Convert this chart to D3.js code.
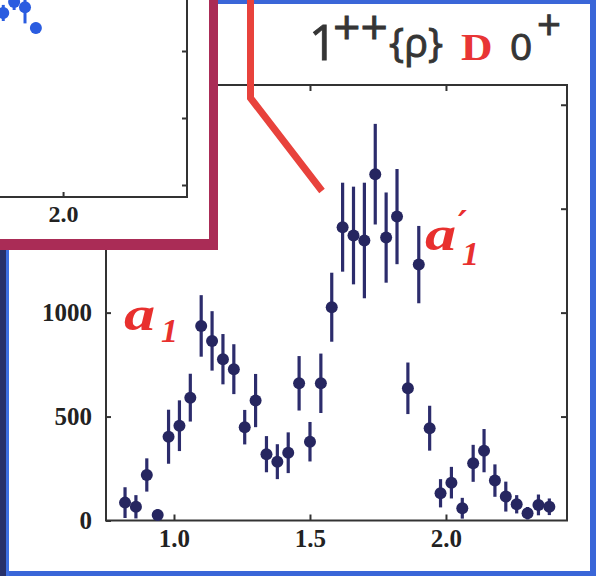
<!DOCTYPE html>
<html><head><meta charset="utf-8">
<script src="https://cdn.jsdelivr.net/npm/d3@7"></script>
<style>html,body{margin:0;padding:0;background:#fff;}svg{display:block;}</style>
</head><body>
<script>
// ---- data (main panel: 1++ {rho} D 0+) ----
const masses = [0.82,0.86,0.90,0.94,0.98,1.02,1.06,1.10,1.14,1.18,1.22,1.26,1.30,1.34,1.38,1.42,1.46,1.50,1.54,1.58,
                1.62,1.66,1.70,1.74,1.78,1.82,1.86,1.90,1.94,1.98,2.02,2.06,2.10,2.14,2.18,2.22,2.26,2.30,2.34,2.38];
const counts = [86,66,219,26,403,456,591,936,864,776,728,449,577,319,283,326,660,379,660,1026,
                1411,1371,1347,1666,1361,1462,636,1231,444,131,182,59,275,336,192,115,78,35,75,66];
const errors = [74,56,80,28,130,122,115,148,143,121,120,83,128,87,84,98,131,95,143,166,
                214,235,278,242,217,229,124,186,108,68,76,50,89,104,78,72,44,30,50,40];
const xTicks = [1.0,1.5,2.0];
const yTicksLeft = [0,500,1000];
const yTicksRight = [500,1000,1500,2000];
// ---- data (inset, partially visible) ----
const insetMasses = [1.78,1.82,1.86,1.90];
const insetCounts = [1284,1366,1326,1172];
const insetErrors = [60,60,120,40];
const insetXTicks = [2.0];
const insetYTicks = [0,500,1000];

const W=596,H=576;
const svg=d3.select("body").append("svg").attr("width",W).attr("height",H);

// background and outer blue frame
svg.append("rect").attr("x",0).attr("y",0).attr("width",W).attr("height",H).attr("fill","#ffffff");
svg.append("rect").attr("x",0).attr("y",0).attr("width",W).attr("height",4).attr("fill","#3a66d8");
svg.append("rect").attr("x",590).attr("y",0).attr("width",6).attr("height",H).attr("fill","#3a66d8");
svg.append("rect").attr("x",0).attr("y",571).attr("width",W).attr("height",5).attr("fill","#3a66d8");
svg.append("rect").attr("x",0).attr("y",0).attr("width",6).attr("height",H).attr("fill","#26306a");
svg.append("rect").attr("x",6).attr("y",0).attr("width",3).attr("height",H).attr("fill","#3d6fe2");

// ---- main panel ----
const x=d3.scaleLinear().domain([0.75,2.445]).range([106,567]);
const y=d3.scaleLinear().domain([0,2095]).range([520.5,85]);
const axisCol="#333";
const tickFont="'Liberation Serif','Times New Roman',serif";

const gL=svg.append("g").attr("transform",`translate(${x.range()[0]},0)`)
  .call(d3.axisLeft(y).tickValues(yTicksLeft).tickFormat(d3.format("d")).tickSize(-5).tickSizeOuter(0).tickPadding(14));
const gB=svg.append("g").attr("transform",`translate(0,${y.range()[0]})`)
  .call(d3.axisBottom(x).tickValues(xTicks).tickFormat(d3.format(".1f")).tickSize(-6).tickSizeOuter(0).tickPadding(9));
const gR=svg.append("g").attr("transform",`translate(${x.range()[1]},0)`)
  .call(d3.axisRight(y).tickValues(yTicksRight).tickFormat("").tickSize(-6).tickSizeOuter(0));
const gT=svg.append("g").attr("transform",`translate(0,${y.range()[1]})`)
  .call(d3.axisTop(x).tickValues(xTicks).tickFormat("").tickSize(-6).tickSizeOuter(0));
[gL,gB,gR,gT].forEach(g=>{
  g.select(".domain").remove();
  g.selectAll(".tick line").attr("stroke",axisCol).attr("stroke-width",2);
  g.selectAll(".tick text").attr("fill","#222").style("font-family",tickFont).style("font-weight","bold").style("font-size","25px");
});
svg.append("rect").attr("x",x.range()[0]).attr("y",y.range()[1])
  .attr("width",x.range()[1]-x.range()[0]).attr("height",y.range()[0]-y.range()[1])
  .attr("fill","none").attr("stroke",axisCol).attr("stroke-width",2);

const pts=masses.map((m,i)=>({m,c:counts[i],e:errors[i]}));
const ptCol="#262660";
svg.append("g").selectAll("line").data(pts).join("line")
  .attr("x1",d=>x(d.m)).attr("x2",d=>x(d.m))
  .attr("y1",d=>y(Math.max(0,d.c-d.e))).attr("y2",d=>y(d.c+d.e))
  .attr("stroke","#2c2c6c").attr("stroke-width",3.2);
svg.append("g").selectAll("circle").data(pts).join("circle")
  .attr("cx",d=>x(d.m)).attr("cy",d=>y(d.c)).attr("r",6).attr("fill",ptCol);

// resonance labels
const red="#e8302e";
const lblFont="'Liberation Serif','Times New Roman',serif";
function aLabel(px,py,prime){
  const g=svg.append("g").attr("fill",red).style("font-family",lblFont).style("font-weight","bold").style("font-style","italic");
  g.append("text").attr("transform",`translate(${px},${py}) scale(1.3,1)`).style("font-size","48px").text("a");
  if(prime) g.append("text").attr("x",px+33).attr("y",py-15).style("font-size","34px").style("font-family","'DejaVu Serif',serif").text("′");
  g.append("text").attr("x",px+37).attr("y",py+(prime?15:12)).style("font-size","34px").text("1");
}
aLabel(124,330,false);
aLabel(425,250,true);

// title
const tFont="'Open Sans','DejaVu Sans',sans-serif";
const tCol="#353535";
function tpart(str,px,py,size,opts={}){
  const f=opts.fill||tCol;
  const t=svg.append("text").attr("transform",`translate(${px},${py}) scale(${opts.sx||1},1)`)
    .attr("fill",f).attr("stroke",opts.noStroke?null:f).attr("stroke-width",opts.noStroke?null:0.9)
    .style("font-family",opts.font||tFont)
    .style("font-weight",opts.weight||"normal").style("font-size",size+"px").text(str);
  return t;
}
tpart("1",309,60,49);
tpart("++",333,44,48);
tpart("{ρ}",389,57,40);
tpart("D",461,60,38,{fill:"#e83535",font:"'Liberation Serif',serif",weight:"bold",sx:1.15,noStroke:true});
tpart("0",510,60,36,{sx:1.08});
tpart("+",537,40,42);

// ---- inset (top-left, partly visible) ----
const ix=d3.scaleLinear().domain([1.768,2.456]).range([0,187]);
const iy=d3.scaleLinear().domain([0,1000]).range([185,51]);
svg.append("rect").attr("x",0).attr("y",0).attr("width",210).attr("height",240).attr("fill","#ffffff");
const giR=svg.append("g").attr("transform",`translate(${ix.range()[1]},0)`)
  .call(d3.axisRight(iy).tickValues(insetYTicks).tickFormat("").tickSize(-5).tickSizeOuter(0));
const giB=svg.append("g").attr("transform",`translate(0,197)`)
  .call(d3.axisBottom(ix).tickValues(insetXTicks).tickFormat(d3.format(".1f")).tickSize(-5).tickSizeOuter(0).tickPadding(8));
[giR,giB].forEach(g=>{
  g.select(".domain").remove();
  g.selectAll(".tick line").attr("stroke",axisCol).attr("stroke-width",2);
  g.selectAll(".tick text").attr("fill","#222").style("font-family",tickFont).style("font-weight","bold").style("font-size","24px");
});
svg.append("path").attr("d",`M${ix.range()[0]},197H${ix.range()[1]}V0`).attr("fill","none").attr("stroke",axisCol).attr("stroke-width",2);
const ipts=insetMasses.map((m,i)=>({m,c:insetCounts[i],e:insetErrors[i]}));
svg.append("g").selectAll("line").data(ipts).join("line")
  .attr("x1",d=>ix(d.m)).attr("x2",d=>ix(d.m))
  .attr("y1",d=>iy(d.c-d.e)).attr("y2",d=>iy(d.c+d.e))
  .attr("stroke","#2a5ce0").attr("stroke-width",3);
svg.append("g").selectAll("circle").data(ipts).join("circle")
  .attr("cx",d=>ix(d.m)).attr("cy",d=>iy(d.c)).attr("r",6).attr("fill","#2a5ce0");
// inset border
svg.append("rect").attr("x",209).attr("y",0).attr("width",9).attr("height",250).attr("fill","#aa2c56");
svg.append("rect").attr("x",0).attr("y",239).attr("width",218).attr("height",11).attr("fill","#aa2c56");

// red pointer line
svg.append("path").attr("d","M250.5,0V98L322,191").attr("fill","none")
  .attr("stroke","#e8423c").attr("stroke-width",7).attr("stroke-linejoin","miter");
</script>
</body></html>
